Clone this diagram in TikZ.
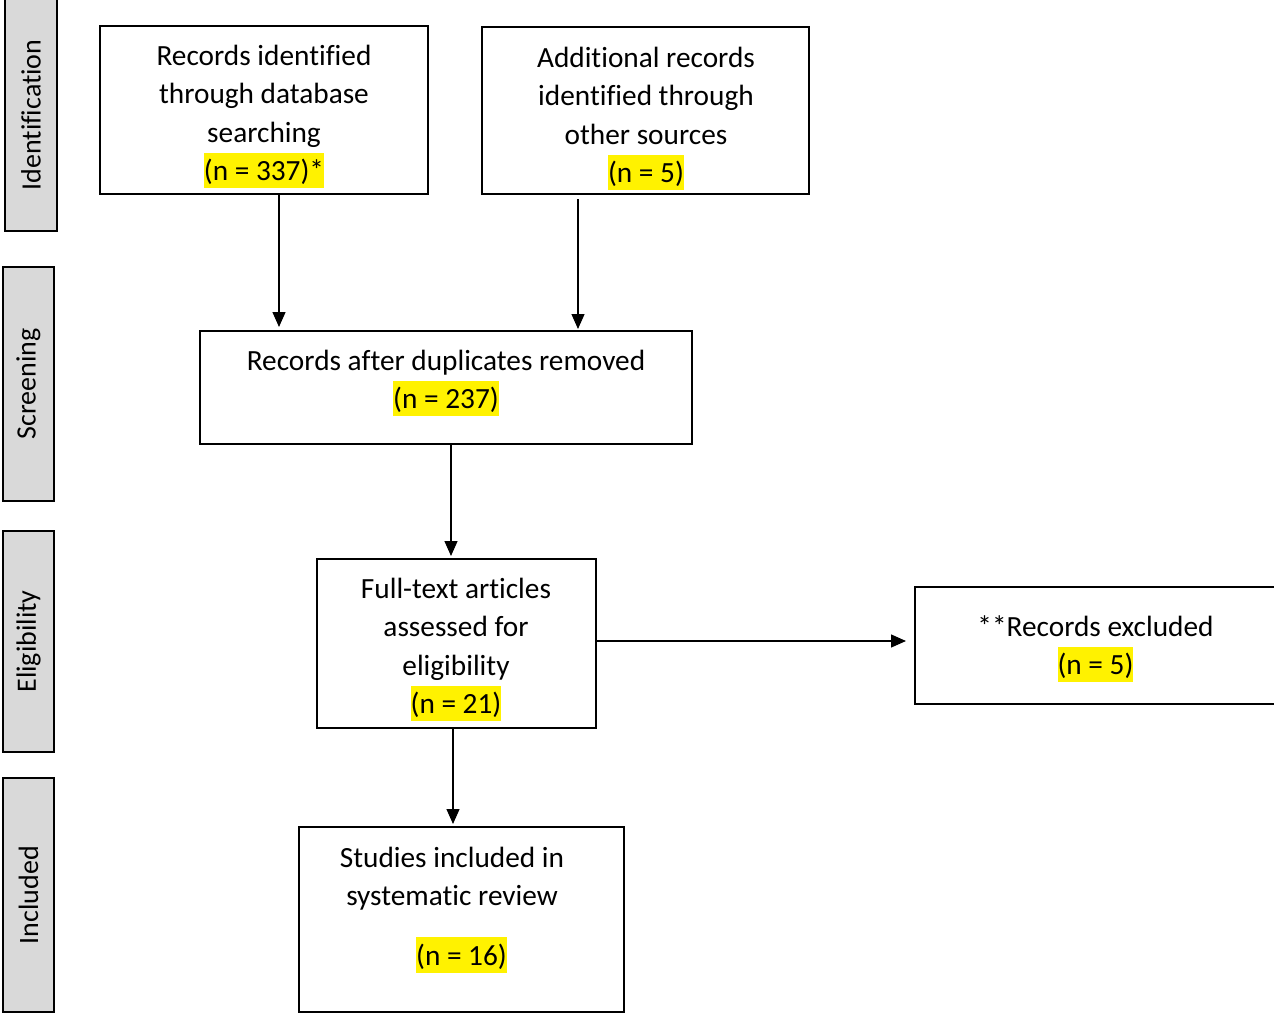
\documentclass[tikz,border=0pt]{standalone}
\usepackage{fontspec}
\setmainfont[Ligatures=NoCommon]{Carlito}
\usetikzlibrary{arrows.meta}
\definecolor{lblgray}{HTML}{D9D9D9}
\newcommand\ls{\rule[-0.269em]{0pt}{1.221em}}
\newcommand\hlt[1]{{\setlength{\fboxsep}{0pt}\colorbox{yellow}{\ls#1}}}
\tikzset{
  box/.style={draw=black, line width=2pt, fill=white, inner sep=0pt},
  lbl/.style={draw=black, line width=2pt, fill=lblgray, inner sep=0pt},
  txt/.style={inner sep=0pt, align=center, anchor=north,
    font=\fontsize{29.3pt}{38.5pt}\selectfont},
  lbltxt/.style={inner sep=0pt, rotate=90, font=\fontsize{28pt}{34pt}\selectfont},
  arr/.style={line width=1.3pt, -{Triangle[length=15pt,width=13pt]}}
}
\begin{document}
\begin{tikzpicture}[x=1pt,y=-1pt]
\clip (0,0) rectangle (1274,1014);
\fill[white] (0,0) rectangle (1274,1014);
% stage labels
\node[lbl, minimum width=52pt, minimum height=232pt] (L1) at (31,115) {};
\node[lbltxt] (L1t) at (L1.center) {Identification};
\node[lbl, minimum width=51pt, minimum height=234pt] (L2) at (28.5,384) {};
\node[lbltxt] (L2t) at (L2.center) {Screening};
\node[lbl, minimum width=51pt, minimum height=221pt] (L3) at (28.5,641.5) {};
\node[lbltxt] (L3t) at (L3.center) {Eligibility};
\node[lbl, minimum width=51pt, minimum height=234pt] (L4) at (28.5,895) {};
\node[lbltxt] (L4t) at (L4.center) {Included};
% boxes
\node[box, minimum width=328pt, minimum height=168pt] (b1) at (264,110) {};
\node[txt] (t1) at (264,37) {\ls Records identified\\\ls through database\\\ls searching\\\hlt{(n = 337)*}};
\node[box, minimum width=327pt, minimum height=167pt] (b2) at (645.5,110.5) {};
\node[txt] (t2) at (646,39) {\ls Additional records\\\ls identified through\\\ls other sources\\\hlt{(n = 5)}};
\node[box, minimum width=492pt, minimum height=113pt] (b3) at (446,387.5) {};
\node[txt] (t3) at (446,342) {\ls Records after duplicates removed\\\hlt{(n = 237)}};
\node[box, minimum width=279pt, minimum height=169pt] (b4) at (456.5,643.5) {};
\node[txt] (t4) at (456,570) {\ls Full-text articles\\\ls assessed for\\\ls eligibility\\\hlt{(n = 21)}};
\node[box, minimum width=380pt, minimum height=117pt] (b5) at (1105,645.5) {};
\node[txt] (t5) at (1095.5,608) {\ls **Records excluded\\\hlt{(n = 5)}};
\node[box, minimum width=325pt, minimum height=185pt] (b6) at (461.5,919.5) {};
\node[txt] (t6) at (452,839) {\ls Studies included in\\\ls systematic review};
\node[txt] (t6n) at (461.5,937) {\hlt{(n = 16)}};
% arrows
\draw[arr, shorten >=3pt] ([xshift=15pt]b1.south) -- ([xshift=15pt]b1.south |- b3.north);
\draw[arr, shorten <=4pt, shorten >=1pt] ([xshift=-67.5pt]b2.south) -- ([xshift=-67.5pt]b2.south |- b3.north);
\draw[arr, shorten >=2pt] ([xshift=5pt]b3.south) -- ([xshift=5pt]b3.south |- b4.north);
\draw[arr, shorten >=2pt] ([xshift=-3.5pt]b4.south) -- ([xshift=-3.5pt]b4.south |- b6.north);
\draw[arr, shorten >=8pt] ([yshift=2.5pt]b4.east) -- ([yshift=2.5pt]b4.east -| b5.west);
\end{tikzpicture}
\end{document}
